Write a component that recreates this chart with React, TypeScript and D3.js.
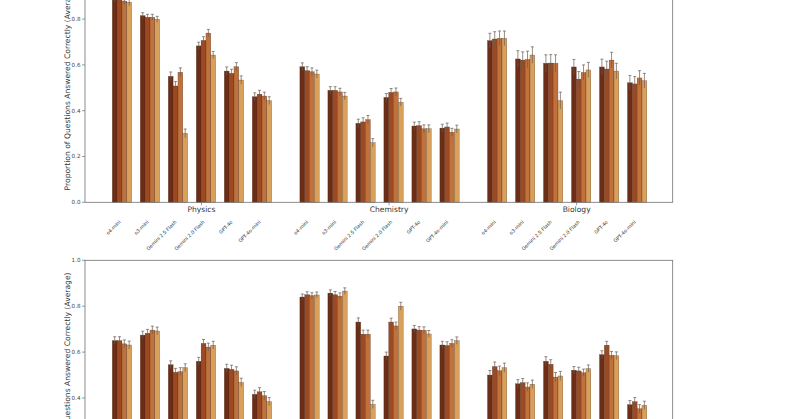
import React from "react";
import * as d3 from "d3";

const models = ["o4-mini", "o3-mini", "Gemini 2.5 Flash", "Gemini 2.0 Flash", "GPT-4o", "GPT-4o-mini"];
const topSubjects = ["Physics", "Chemistry", "Biology"];
const seriesColors = ["#6b2d16", "#9b4a24", "#c0723c", "#d9a05c"];
const yTicks = [0, 0.2, 0.4, 0.6, 0.8, 1.0];
const yLabel = "Proportion of Questions Answered Correctly (Average)";

// values per model (rows) for the four series (columns)
const physics = [
  [0.893, 0.886, 0.879, 0.874],
  [0.815, 0.808, 0.808, 0.799],
  [0.55, 0.508, 0.568, 0.301],
  [0.683, 0.707, 0.739, 0.643],
  [0.573, 0.563, 0.592, 0.534],
  [0.461, 0.472, 0.464, 0.444],
];
const chemistry = [
  [0.592, 0.575, 0.57, 0.56],
  [0.489, 0.489, 0.482, 0.464],
  [0.345, 0.351, 0.361, 0.26],
  [0.458, 0.48, 0.482, 0.437],
  [0.333, 0.335, 0.321, 0.321],
  [0.324, 0.329, 0.306, 0.32],
];
const biology = [
  [0.706, 0.713, 0.716, 0.716],
  [0.626, 0.621, 0.624, 0.643],
  [0.607, 0.608, 0.607, 0.444],
  [0.591, 0.538, 0.567, 0.578],
  [0.591, 0.582, 0.621, 0.573],
  [0.522, 0.517, 0.543, 0.531],
];
const bottomGroupA = [
  [0.65, 0.65, 0.636, 0.631],
  [0.674, 0.682, 0.696, 0.692],
  [0.545, 0.512, 0.515, 0.532],
  [0.56, 0.638, 0.622, 0.63],
  [0.529, 0.525, 0.518, 0.468],
  [0.416, 0.427, 0.41, 0.384],
];
const bottomGroupB = [
  [0.84, 0.85, 0.846, 0.849],
  [0.857, 0.85, 0.844, 0.866],
  [0.731, 0.678, 0.678, 0.372],
  [0.583, 0.731, 0.714, 0.8],
  [0.701, 0.696, 0.695, 0.679],
  [0.631, 0.629, 0.638, 0.65],
];
const bottomGroupC = [
  [0.5, 0.537, 0.519, 0.532],
  [0.462, 0.467, 0.448, 0.46],
  [0.56, 0.547, 0.491, 0.496],
  [0.521, 0.518, 0.51, 0.528],
  [0.589, 0.63, 0.586, 0.584],
  [0.371, 0.384, 0.353, 0.368],
];

// error half-widths per subject
const physicsErr = [0.016, 0.013, 0.019, 0.016, 0.018, 0.017];
const chemistryErr = [0.017, 0.016, 0.018, 0.017, 0.017, 0.017];
const biologyErr = [0.032, 0.036, 0.037, 0.033, 0.034, 0.032];
const bottomErrA = [0.017, 0.017, 0.017, 0.017, 0.018, 0.018];
const bottomErrB = [0.013, 0.014, 0.018, 0.017, 0.015, 0.016];
const bottomErrC = [0.02, 0.018, 0.02, 0.016, 0.017, 0.018];

const topPanel = { groups: [physics, chemistry, biology], errs: [physicsErr, chemistryErr, biologyErr], names: topSubjects };
const bottomPanel = { groups: [bottomGroupA, bottomGroupB, bottomGroupC], errs: [bottomErrA, bottomErrB, bottomErrC], names: [] as string[] };

const W = 800;
const H = 419;
const SUBJ_STEP = 6.7;
const TICK_OFF = 2.84;
const BAR_W = 0.1725;

const x = d3.scaleLinear().domain([-1.32, 19.67]).range([85, 672.7]);

function Panel({ panel, y, showLabels }: any) {
  const [y0, y1] = y.range();
  const x0 = x.range()[0];
  const x1 = x.range()[1];
  const font = "DejaVu Sans, sans-serif";
  const spine = "#707070";
  const bars: any[] = [];
  const errs: any[] = [];
  panel.groups.forEach((g: number[][], s: number) => {
    g.forEach((row: number[], m: number) => {
      row.forEach((v: number, k: number) => {
        const cx = s * SUBJ_STEP + m + (k - 1.5) * BAR_W;
        const left = x(cx - BAR_W / 2);
        const wpx = x(cx + BAR_W / 2) - left;
        bars.push(
          <rect key={`b${s}-${m}-${k}`} x={left} y={y(v)} width={wpx} height={y(0) - y(v)}
            fill={seriesColors[k]} stroke="#3a1a0a" strokeWidth={0.35} strokeOpacity={0.7} />
        );
        const e = panel.errs[s][m];
        const px = x(cx);
        errs.push(
          <g key={`e${s}-${m}-${k}`} stroke="#6a5a50" strokeWidth={0.7}>
            <line x1={px} x2={px} y1={y(v - e)} y2={y(v + e)} />
            <line x1={px - 1.5} x2={px + 1.5} y1={y(v + e)} y2={y(v + e)} />
          </g>
        );
      });
    });
  });
  const midY = (y0 + y1) / 2;
  return (
    <g fontFamily={font}>
      {bars}
      {errs}
      <rect x={x0} y={y1} width={x1 - x0} height={y0 - y1} fill="none" stroke={spine} strokeWidth={0.8} />
      {yTicks.map((t) => (
        <g key={t}>
          <line x1={x0 - 3} x2={x0} y1={y(t)} y2={y(t)} stroke={spine} strokeWidth={0.7} />
          <text x={x0 - 4.5} y={y(t)} dy="0.35em" textAnchor="end" fontSize={5.6} fill="#444">{t.toFixed(1)}</text>
        </g>
      ))}
      <text transform={`translate(69.5,${midY}) rotate(-90)`} textAnchor="middle" fontSize={7.6} fill="#333">{yLabel}</text>
      {panel.groups.map((_: any, s: number) => (
        <line key={`gt${s}`} x1={x(s * SUBJ_STEP + TICK_OFF)} x2={x(s * SUBJ_STEP + TICK_OFF)} y1={y0} y2={y0 + 3} stroke={spine} strokeWidth={0.7} />
      ))}
      {showLabels && panel.names.map((n: string, s: number) => (
        <text key={`gn${s}`} x={x(s * SUBJ_STEP + TICK_OFF)} y={y0 + 9.5} textAnchor="middle" fontSize={7.6} fill="#333">{n}</text>
      ))}
      {showLabels && panel.groups.map((_: any, s: number) =>
        models.map((mname, m) => (
          <text key={`ml${s}-${m}`} transform={`translate(${x(s * SUBJ_STEP + m) - 1},${y0 + 20}) rotate(-45)`}
            textAnchor="end" fontSize={4.8} fill="#333">{mname}</text>
        ))
      )}
    </g>
  );
}

export default function App() {
  const yTop = d3.scaleLinear().domain([0, 1]).range([202.3, -26.7]);
  const yBottom = d3.scaleLinear().domain([0, 1]).range([489.8, 260.3]);
  return (
    <svg width={W} height={H} style={{ position: "absolute", left: 0, top: 0, background: "#fff" }}>
      <rect width={W} height={H} fill="#fff" />
      <Panel panel={topPanel} y={yTop} showLabels={true} />
      <Panel panel={bottomPanel} y={yBottom} showLabels={true} />
    </svg>
  );
}
